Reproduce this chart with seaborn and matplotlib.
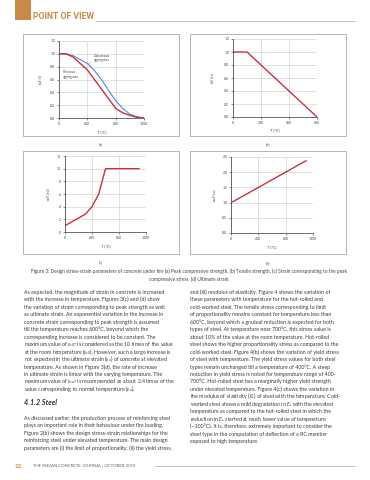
import matplotlib
matplotlib.use("Agg")
import matplotlib.pyplot as plt
import seaborn as sns
import pandas as pd
from matplotlib.patches import Rectangle
from matplotlib.lines import Line2D

sns.set_theme(style="white")
plt.rcParams['font.family'] = ['Lato', 'DejaVu Sans']
plt.rcParams['mathtext.fontset'] = 'custom'
plt.rcParams['mathtext.rm'] = 'Lato'
plt.rcParams['mathtext.it'] = 'Lato:italic'
plt.rcParams['mathtext.bf'] = 'Lato:bold'
plt.rcParams['mathtext.fallback'] = 'cm'

W, H = 370, 480

# ---------------- data ----------------
temp_a = [0, 100, 200, 300, 400, 500, 600, 700, 800, 900, 1000, 1100, 1200]
calcareous = [1.0, 1.0, 0.97, 0.91, 0.85, 0.74, 0.60, 0.43, 0.27, 0.15, 0.06, 0.02, 0.0]
siliceous = [1.0, 1.0, 0.95, 0.85, 0.75, 0.60, 0.45, 0.30, 0.15, 0.08, 0.04, 0.01, 0.0]

temp_b = [0, 100, 600]
tensile = [1.0, 1.0, 0.0]

temp_c = [0, 100, 200, 300, 400, 500, 600, 1100]
peak_strain = [1.0, 1.6, 2.2, 2.8, 4.0, 6.0, 10.0, 10.0]

temp_d = [0, 100, 1100]
ult_strain = [1.0, 1.12, 2.38]

xticks_a = [0, 400, 800, 1200]
yticks_a = [0.0, 0.2, 0.4, 0.6, 0.8, 1.0, 1.2]
xticks_b = [0, 200, 400, 600]
yticks_c = [0, 2, 4, 6, 8, 10, 12]
yticks_d = [0.0, 0.5, 1.0, 1.5, 2.0, 2.5]

caption_line1 = ("Figure 3: Design stress-strain parameters of concrete under fire (a) Peak compressive "
                 "strength, (b) Tensile strength, (c) Strain corresponding to the peak")
caption_line2 = "compressive stress, (d) Ultimate strain."

left_para1 = [
    "As expected, the magnitude of strain in concrete is increased",
    "with the increase in temperature. Figures 3(c) and (d) show",
    "the variation of strain corresponding to peak strength as well",
    "as ultimate strain. An exponential variation in the increase in",
    "concrete strain corresponding to peak strength is assumed",
    "till the temperature reaches 600°C, beyond which the",
    "corresponding increase is considered to be constant. The",
    r"maximum value of $\varepsilon_{c0T}$ is considered as the 10 times of the value",
    r"at the room temperature ($\varepsilon_{c0}$). However, such a large increase is",
    r"not expected in the ultimate strain ($\varepsilon_{u}$) of concrete at elevated",
    "temperature. As shown in Figure 3(d), the rate of increase",
    "in ultimate strain is linear with the varying temperature. The",
    r"maximum value of $\varepsilon_{cuT}$ is recommended as about 2.4 times of the",
    r"value corresponding to normal temperature ($\varepsilon_{u}$).",
]
heading = "4.1.2 Steel"
left_para2 = [
    "As discussed earlier, the production process of reinforcing steel",
    "plays an important role in their behaviour under fire loading.",
    "Figure 2(b) shows the design stress-strain relationships for the",
    "reinforcing steel under elevated temperature. The main design",
    "parameters are (i) the limit of proportionality, (ii) the yield stress,",
]
right_para = [
    "and (iii) modulus of elasticity. Figure 4 shows the variation of",
    "these parameters with temperature for the hot-rolled and",
    "cold-worked steel. The tensile stress corresponding to limit",
    "of proportionality remains constant for temperature less than",
    "600°C, beyond which a gradual reduction is expected for both",
    "types of steel. At temperature near 700°C, this stress value is",
    "about 10% of the value at the room temperature. Hot-rolled",
    "steel shows the higher proportionality stress as compared to the",
    "cold-worked steel. Figure 4(b) shows the variation of yield stress",
    "of steel with temperature. The yield stress values for both steel",
    "types remain unchanged till a temperature of 400°C. A steep",
    "reduction in yield stress is noted for temperature range of 400-",
    "700°C. Hot-rolled steel has a marginally higher yield strength",
    "under elevated temperature. Figure 4(c) shows the variation in",
    r"the modulus of elasticity ($E_s$) of steel with the temperature. Cold-",
    r"worked steel shows a mild degradation in $E_s$ with the elevated",
    "temperature as compared to the hot-rolled steel in which the",
    r"reduction in $E_s$ started at much lower value of temperature",
    "(~100°C). It is, therefore, extremely important to consider the",
    "steel type in the computation of deflection of a RC member",
    "exposed to high temperature.",
]

# ---------------- figure ----------------
fig = plt.figure(figsize=(W / 100, H / 100), dpi=100)
fig.patch.set_facecolor("white")

def rect(l, t, r, b):
    return [l / W, 1 - b / H, (r - l) / W, (b - t) / H]

def fx(x):
    return x / W

def fy(y):
    return 1 - y / H

RED = "#c8323c"
BLUE = "#5b86c5"
ORANGE = "#c98a48"
GRID = "#d4d4d4"
TXT = "#3a3a3a"

# frames
for (l, t, r, b) in [(23, 34, 179, 136), (190, 34, 346, 136), (23, 151, 179, 254), (190, 151, 346, 254)]:
    fig.patches.append(Rectangle((fx(l), fy(b)), (r - l) / W, (b - t) / H, transform=fig.transFigure,
                                 fill=False, edgecolor="#a8a8a8", lw=0.6))

def style_ax(ax, xticks, yticks, xlim, ylim, ylabel, ylab_x, xlab_y, yfmt):
    ax.set_xlim(*xlim)
    ax.set_ylim(*ylim)
    ax.set_xticks(xticks)
    ax.set_yticks(yticks)
    ax.set_xticklabels([str(v) for v in xticks])
    ax.set_yticklabels([yfmt.format(v) for v in yticks])
    ax.grid(True, color=GRID, lw=0.5)
    ax.set_axisbelow(True)
    for s in ["top", "right"]:
        ax.spines[s].set_visible(False)
    for s in ["left", "bottom"]:
        ax.spines[s].set_color("#555555")
        ax.spines[s].set_linewidth(0.6)
    ax.tick_params(axis="both", direction="out", length=1.5, width=0.5, pad=1.2,
                   labelsize=2.5, colors="#555555", labelcolor="#444444", bottom=True, left=True)
    ax.set_xlabel("T (°C)", fontsize=2.8, color="#444444")
    ax.set_ylabel(ylabel, fontsize=2.8, color="#444444")
    ax.xaxis.set_label_coords(0.5, xlab_y)
    ax.yaxis.set_label_coords(ylab_x, 0.5)
    ax.set_facecolor("white")

# (a)
ax_a = fig.add_axes(rect(59, 41, 144, 118))
df_a = pd.DataFrame({"T": temp_a + temp_a,
                     "v": calcareous + siliceous,
                     "agg": ["Calcareous"] * len(temp_a) + ["Siliceous"] * len(temp_a)})
sns.lineplot(data=df_a, x="T", y="v", hue="agg", palette={"Calcareous": BLUE, "Siliceous": RED},
             ax=ax_a, legend=False, estimator=None, sort=False)
ax_a.lines[0].set_linewidth(0.8)
ax_a.lines[1].set_linewidth(1.0)
style_ax(ax_a, xticks_a, yticks_a, (0, 1200), (0, 1.2), r"$f_{cuT}/f_c$", -0.17, -0.16, "{:.1f}")
ax_a.annotate("Calcareous\naggregates", xy=(420, 0.85), xytext=(490, 0.93), fontsize=2.4,
              color="#444444", va="center", ha="left", linespacing=1.1,
              arrowprops=dict(arrowstyle="-", color="#555555", lw=0.3))
ax_a.annotate("Siliceous\naggregates", xy=(350, 0.79), xytext=(60, 0.68), fontsize=2.4,
              color="#444444", va="center", ha="left", linespacing=1.1,
              arrowprops=dict(arrowstyle="-", color="#555555", lw=0.3))

# (b)
ax_b = fig.add_axes(rect(233, 39, 317, 117))
sns.lineplot(x=temp_b, y=tensile, ax=ax_b, color=RED, lw=1.0, estimator=None, sort=False)
style_ax(ax_b, xticks_b, yticks_a, (0, 600), (0, 1.2), r"$f_{ctT}/f_{ct}$", -0.19, -0.15, "{:.1f}")

# (c)
ax_c = fig.add_axes(rect(65, 156, 146, 232))
sns.lineplot(x=temp_c, y=peak_strain, ax=ax_c, color=RED, lw=1.0, estimator=None, sort=False)
style_ax(ax_c, xticks_a, yticks_c, (0, 1200), (0, 12), r"$\varepsilon_{c0T}/\varepsilon_{c0}$", -0.15, -0.16, "{:d}")

# (d)
ax_d = fig.add_axes(rect(231, 157, 313, 233))
sns.lineplot(x=temp_d, y=ult_strain, ax=ax_d, color=RED, lw=1.0, estimator=None, sort=False)
style_ax(ax_d, xticks_a, yticks_d, (0, 1200), (0, 2.5), r"$\varepsilon_{cuT}/\varepsilon_{cu}$", -0.15, -0.17, "{:.1f}")

# sub captions
for lab, x, y in [("(a)", 101, 144), ("(b)", 268, 144), ("(c)", 101, 262), ("(d)", 268, 263)]:
    fig.text(fx(x), fy(y), lab, fontsize=3.0, color="#444444", ha="center", va="center")

# figure caption
fig.text(fx(189), fy(271), caption_line1, fontsize=3.4, color="#444444", ha="center", va="center")
fig.text(fx(189), fy(279.5), caption_line2, fontsize=3.4, color="#444444", ha="center", va="center")

# header
fig.patches.append(Rectangle((fx(15), fy(20)), 16 / W, 20 / H, transform=fig.transFigure,
                             color=ORANGE, lw=0))
fig.text(fx(33), fy(16.5), "POINT OF VIEW", fontsize=6.3, color=ORANGE, fontweight="bold",
         ha="left", va="center", family=["Roboto", "DejaVu Sans"])
fig.lines.append(Line2D([fx(96), fx(355)], [fy(20.5), fy(20.5)], transform=fig.transFigure,
                        color="#aaaaaa", lw=0.5))

# body text
BODY = 3.75
SP = 7.45
for i, line in enumerate(left_para1):
    fig.text(fx(24), fy(294 + i * SP), line, fontsize=BODY, color=TXT, ha="left", va="baseline")
fig.text(fx(24), fy(405), heading, fontsize=5.2, color="#333333", ha="left", va="baseline",
         style="italic", fontweight="bold")
for i, line in enumerate(left_para2):
    fig.text(fx(24), fy(420 + i * SP), line, fontsize=BODY, color=TXT, ha="left", va="baseline")
for i, line in enumerate(right_para):
    fig.text(fx(190), fy(294 + i * SP), line, fontsize=BODY, color=TXT, ha="left", va="baseline")

# footer
fig.text(fx(15), fy(466), "12", fontsize=4.6, color=ORANGE, ha="left", va="center", fontweight="bold")
fig.text(fx(33), fy(466), "THE INDIAN CONCRETE JOURNAL | OCTOBER 2019", fontsize=3.1,
         color="#666666", ha="left", va="center")
fig.lines.append(Line2D([fx(155), fx(355)], [fy(466), fy(466)], transform=fig.transFigure,
                        color="#aaaaaa", lw=0.5))

fig.savefig("out.png", dpi=100, facecolor="white")
